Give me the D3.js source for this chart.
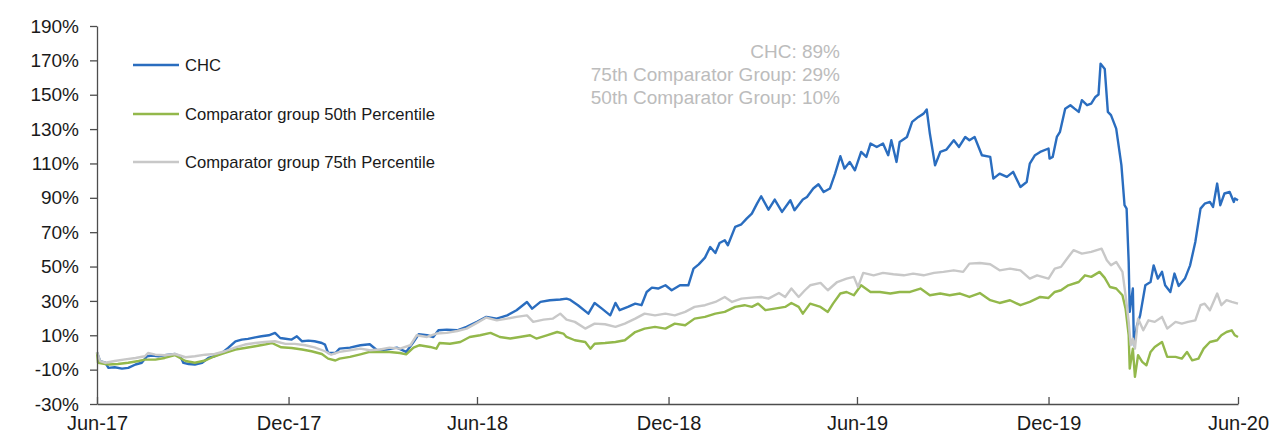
<!DOCTYPE html>
<html><head><meta charset="utf-8">
<script src="https://cdn.jsdelivr.net/npm/d3@7"></script>
<style>body{margin:0;background:#fff} svg{display:block}</style>
</head><body>
<svg id="chart" width="1272" height="436"></svg>
<script>
// ---- data (days since 30-Jun-2017, cumulative return %) ----
const startDate = "2017-06-30";
const xTickDays = [0,184,365,549,730,914,1096];
const xTickLabels = ["Jun-17","Dec-17","Jun-18","Dec-18","Jun-19","Dec-19","Jun-20"];
const yTicks = [-30,-10,10,30,50,70,90,110,130,150,170,190];
const seriesNames = ["CHC","Comparator group 50th Percentile","Comparator group 75th Percentile"];
const summaryLabels = ["CHC: 89%","75th Comparator Group: 29%","50th Comparator Group: 10%"];

const chcDays = [0,3,8,11,17,24,30,37,43,48,53,59,65,75,80,83,88,94,101,107,113,120,126,133,139,145,152,158,165,171,176,181,187,192,197,203,209,216,219,222,229,
233,243,253,262,269,278,288,297,304,309,317,323,328,336,346,355,365,374,384,394,403,413,418,426,435,445,451,
454,462,472,478,485,493,498,502,510,517,523,528,533,539,546,552,560,568,573,578,584,589,594,598,603,606,613,619,624,629,634,638,645,651,658,666,670,678,
682,688,693,698,704,709,714,718,723,728,734,739,743,749,755,760,763,768,771,778,783,789,794,797,800,805,810,816,823,828,834,838,843,850,858,861,867,874,880,887,893,896,901,906,
914,915,918,922,925,930,935,939,943,946,951,955,959,962,964,968,971,974,979,984,987,989,991,992,995,996,999,1002,1007,1012,1015,1019,1023,1026,1031,1035,1039,1045,1050,1055,1060,1064,1069,1072,1076,1079,1083,1088,1092,1093,1096];
const chcValues = [0,-5,-6,-9,-8.6,-9.4,-9,-7,-6,-2.2,-1.8,-2.2,-1.6,-0.9,-2.2,-6.1,-6.7,-7,-6,-3.2,-2.2,-0.3,2.6,6.5,7.5,7.9,8.8,9.4,10,11.4,8.4,8,7.5,9.4,6.5,6.9,6.5,5.5,4.6,-0.3,-0.3,
2.2,2.8,4.2,4.8,1.3,1.7,2.8,0.3,6.1,10.6,10,9,12.9,13.3,12.9,14.9,17.8,20.7,19.7,21.6,24.6,29.4,25.5,29.4,30.4,30.8,31.3,
30.8,27.5,22.6,28.8,25.5,21.6,28.8,24.6,26.5,28.4,27.5,35.2,37.7,37.2,39.1,36.2,39.1,39.1,48.8,51.3,55.2,61.4,57.9,63.7,65.3,62.4,73.1,74.6,77.9,80.8,86.6,90.9,83.1,89,81.8,88.6,82.8,89,
90.5,95.4,97.9,93.4,95.4,104.1,114.2,107,110.9,106,116.7,113.8,121.6,119.6,121.6,114.8,123.5,110.9,122.5,125.4,134.2,137.1,139,141.4,127.4,108.9,116.7,118.1,123.5,119.6,125.4,123.5,125.4,114.8,113.8,101.2,104.1,102.2,105.1,96.3,99.2,109.9,114.8,116.7,
118.7,112.8,113.8,125.4,128.4,141.9,143.9,141.9,140,146.8,143.9,144.8,148.7,150.1,168.1,165,140,138.1,130.3,109,85.7,83.7,52.7,23.6,37.2,4.2,15.8,21.6,39.1,41,50.7,43,46.9,39.1,35.2,45.9,38.7,43,50.7,64.3,83.7,86.6,87.6,84.7,98.3,85.7,92.5,93.4,87.6,89.6,88.6];

const p50Days = [0,1,11,20,30,40,46,56,65,75,85,94,104,113,123,133,142,152,161,168,177,187,197,206,216,222,229,
233,243,253,262,272,281,291,297,304,310,320,326,329,339,349,358,368,378,387,397,406,416,422,432,442,448,451,
459,469,474,478,488,498,507,517,526,536,546,555,565,574,584,594,603,613,622,629,635,642,651,661,667,674,678,
685,695,702,707,714,720,727,734,743,752,762,771,781,791,800,810,819,829,838,848,858,867,877,887,896,906,
914,920,926,933,943,949,955,963,968,973,979,985,988,991,992,995,997,1000,1004,1008,1012,1016,1023,1028,1036,1042,1047,1052,1058,1063,1069,1076,1080,1085,1090,1093,1096];
const p50Values = [0,-6.1,-7,-6.7,-6,-5,-4.2,-4.2,-3.2,-1.6,-5,-6,-4.7,-2.2,-0.3,1.7,2.6,3.6,4.6,5.5,3,2.6,1.7,0.7,-0.9,-3.6,-4.7,
-3.6,-2.6,-1.1,0.3,0.3,0.3,-0.3,-1.1,2.8,4.2,3.2,2.2,5.5,5.1,6.1,9,10,11.4,9,8.1,9,10,8.1,10,11.9,11,9,
7.1,6.1,2.2,5.1,5.5,6.1,7.1,11.9,13.9,14.9,13.9,16.8,15.8,19.7,20.7,22.6,23.6,26.5,27.5,26.5,28.4,24.6,25.5,26.5,28.8,26.5,22.6,
28.4,26.5,23.6,28.4,34.3,35.2,33.3,39.1,35.2,35.2,34.3,35.2,35.2,37.2,33.3,34.3,33.3,34.3,32.3,34.6,30.4,28.8,30.4,27.5,29.4,32.3,
31.7,35.2,36.2,39.1,41,44.9,44,46.9,43.4,38.1,37.2,33.3,25.5,10,-9.4,2.2,-14.2,-1.6,-5.5,-7.5,0.3,3.2,6.1,-2.6,-2.6,-3.6,0.3,-4.6,-3.6,2.2,6.1,7.1,10,11.9,12.9,10,9];

const p75Days = [0,3,8,17,27,37,46,49,56,65,75,85,94,104,113,123,133,142,152,161,171,181,190,200,209,219,225,
233,243,253,262,272,281,291,301,307,317,326,336,346,355,365,374,384,394,403,413,419,429,438,445,451,
459,469,478,488,498,507,517,526,536,546,555,565,574,584,594,603,610,619,629,638,645,655,661,667,674,680,
685,695,702,711,720,727,731,736,746,755,765,775,784,794,804,813,823,832,838,848,858,867,877,887,896,903,
914,920,926,933,938,946,955,965,970,974,979,985,988,991,993,995,997,1000,1005,1010,1016,1023,1028,1036,1042,1048,1055,1060,1064,1069,1076,1080,1085,1090,1096];
const p75Values = [0.3,-5,-6,-5,-4,-3.2,-2.2,-0.3,-1.3,-1.6,-0.9,-2.8,-2.2,-1.3,-0.9,0.7,3,4.6,5.5,6.1,6.5,5,5,4.2,3,0.7,-1.3,
0.3,1.3,2.2,1.3,1.7,2.8,2.2,4.2,10,9,11,11.4,12.5,13.9,17.2,20.3,18.7,19.7,20.7,21.6,17.8,19.1,19.7,22.6,19.1,
17.8,13.9,16.8,16.4,14.9,16.8,19.7,22.6,21.6,22.6,21.6,23.6,26.5,27.5,29.4,32.3,29.4,31.3,31.9,32.3,31.3,34.6,32.3,37.2,32.3,36.2,
39.1,40.5,36.2,41,43,44,38.1,46.3,44.9,46.3,45.5,44.9,45.9,44.9,46.3,46.9,47.8,46.9,51.7,52.1,51.3,47.8,48.8,47.8,43,44.9,
43,48.8,49.8,55.6,59.5,57.5,58.5,60.4,53.7,50.7,52.7,46.9,33.3,17.8,4.2,8.1,2.2,19.7,12.9,18.7,17.8,20.7,13.9,17.8,16.8,17.8,18.7,27.5,28.4,24.6,34.3,27.5,30.4,29.4,28.4];

// ---- chart ----
const W = 1272, H = 436;
const margin = {left: 97, right: 34, top: 26, bottom: 32};
const colors = {chc: "#2a6dbf", p50: "#93b84b", p75: "#c8c8c8"};
const font = "'Liberation Sans', Arial, sans-serif";
const svg = d3.select("#chart");
const t0 = new Date(startDate + "T00:00:00Z");
const toDate = d => d3.utcDay.offset(t0, d);

const x = d3.scaleUtc().domain([toDate(0), toDate(xTickDays[xTickDays.length-1])]).range([margin.left, W - margin.right]);
const y = d3.scaleLinear().domain([yTicks[0], yTicks[yTicks.length-1]]).range([H - margin.bottom, margin.top]);

const zip = (ds, vs) => ds.map((d, i) => ({date: toDate(d), v: vs[i]}));
const series = [
  {key: "chc", data: zip(chcDays, chcValues)},
  {key: "p50", data: zip(p50Days, p50Values)},
  {key: "p75", data: zip(p75Days, p75Values)}
];
const line = d3.line().x(d => x(d.date)).y(d => y(d.v));

svg.append("g").selectAll("path").data(series).join("path")
  .attr("d", s => line(s.data))
  .attr("fill", "none")
  .attr("stroke", s => colors[s.key])
  .attr("stroke-width", 2.4)
  .attr("stroke-linejoin", "round");

// axes
const yAxis = svg.append("g").attr("transform", `translate(${margin.left},0)`)
  .call(d3.axisLeft(y).tickValues(yTicks).tickFormat(d => d + "%").tickSize(7).tickSizeOuter(0).tickPadding(11));
const xAxis = svg.append("g").attr("transform", `translate(0,${H - margin.bottom})`)
  .call(d3.axisBottom(x).tickValues(xTickDays.map(toDate)).tickFormat((d, i) => xTickLabels[i]).tickSizeInner(-7).tickSizeOuter(0).tickPadding(12));
[yAxis, xAxis].forEach(g => {
  g.selectAll("path.domain").attr("stroke", "#4d4d4d").attr("stroke-width", 1.3);
  g.selectAll(".tick line").attr("stroke", "#4d4d4d").attr("stroke-width", 1.3);
  g.selectAll(".tick text").attr("fill", "#1a1a1a").style("font-family", font).style("font-size", "19px");
});
xAxis.selectAll(".tick text").style("font-size", "20px");

// legend
const legendKeys = ["chc", "p50", "p75"];
const legendY = [65, 114, 162];
const lg = svg.append("g");
legendKeys.forEach((k, i) => {
  lg.append("line").attr("x1", 133).attr("x2", 179).attr("y1", legendY[i]).attr("y2", legendY[i])
    .attr("stroke", colors[k]).attr("stroke-width", 2.5);
  lg.append("text").attr("x", 185).attr("y", legendY[i]).attr("dy", "0.35em")
    .style("font-family", font).style("font-size", "16.6px").attr("fill", "#1a1a1a")
    .text(seriesNames[i]);
});

// summary annotation
svg.append("g").selectAll("text").data(summaryLabels).join("text")
  .attr("x", 840).attr("y", (d, i) => 58 + i * 23)
  .attr("text-anchor", "end")
  .style("font-family", font).style("font-size", "19px")
  .attr("fill", "#bcbcbc")
  .text(d => d);
</script>
</body></html>
